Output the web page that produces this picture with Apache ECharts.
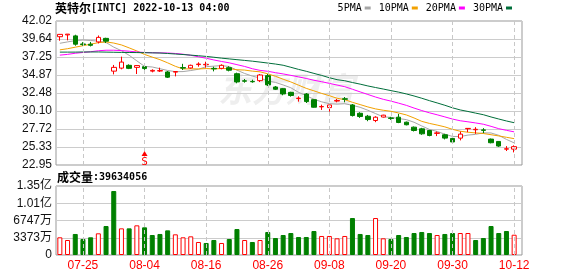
<!DOCTYPE html>
<html>
<head>
<meta charset="utf-8">
<script src="https://cdn.jsdelivr.net/npm/echarts@6/dist/echarts.min.js"></script>
<style>html,body{margin:0;padding:0;background:#fff;}#c{width:578px;height:276px;}</style>
</head>
<body>
<div id="c"></div>
<script>
const dates = ['07-20','07-21','07-22','07-25','07-26','07-27','07-28','07-29','08-01','08-02','08-03','08-04','08-05','08-08','08-09','08-10','08-11','08-12','08-15','08-16','08-17','08-18','08-19','08-22','08-23','08-24','08-25','08-26','08-29','08-30','08-31','09-01','09-02','09-06','09-07','09-08','09-09','09-12','09-13','09-14','09-15','09-16','09-19','09-20','09-21','09-22','09-23','09-26','09-27','09-28','09-29','09-30','10-03','10-04','10-05','10-06','10-07','10-10','10-11','10-12'];
const opens  = [39.94,40.18,40.05,38.98,38.95,39.25,39.72,35.38,35.78,36.15,35.88,35.97,35.38,35.40,35.27,35.25,35.85,35.80,36.25,36.22,35.75,35.75,35.84,35.04,34.10,34.02,34.12,34.78,33.28,33.06,32.57,31.75,32.35,31.60,30.65,30.55,31.42,31.72,30.90,29.80,29.41,28.84,29.30,29.18,29.28,28.62,27.96,27.74,27.52,27.14,26.95,26.47,26.51,27.75,27.62,27.60,26.38,26.07,25.05,25.05];
const closes = [40.25,40.28,38.95,38.90,38.80,39.85,39.35,35.88,36.58,35.75,36.12,35.72,35.48,35.45,34.58,35.33,35.78,36.15,36.32,36.28,35.68,36.15,35.50,33.95,34.05,33.97,34.87,33.56,32.98,32.36,32.15,31.80,31.35,30.60,30.70,30.90,31.50,31.66,29.50,29.37,28.97,29.28,29.55,29.12,28.58,28.28,27.52,27.08,26.86,27.20,26.51,26.00,27.04,27.80,27.68,27.54,25.90,25.46,25.10,25.38];
const lows   = [39.41,39.46,38.75,38.75,38.65,39.05,39.10,34.95,35.62,35.65,35.00,35.55,35.22,35.27,34.47,34.69,35.53,35.71,35.97,35.84,35.35,35.62,35.35,33.77,33.85,33.85,33.94,33.41,32.88,32.18,32.00,31.34,31.16,30.55,30.24,30.02,31.25,31.25,29.37,29.19,28.75,28.62,29.25,28.93,28.49,28.20,27.39,26.95,26.75,26.78,26.34,25.95,26.21,27.30,27.08,27.17,25.82,25.35,24.80,24.62];
const highs  = [40.30,40.30,40.20,39.22,39.25,40.10,39.80,36.20,37.30,36.28,36.15,36.15,35.62,35.84,35.40,35.35,36.35,36.24,36.55,36.63,35.97,36.28,36.02,35.18,34.34,34.25,35.00,35.00,33.41,33.15,32.65,32.04,32.48,31.65,30.94,30.92,31.69,31.95,31.03,29.94,29.58,29.41,29.60,29.32,29.72,28.70,28.05,27.87,27.60,27.39,27.08,26.55,27.39,27.82,27.96,27.83,26.45,26.12,25.45,25.55];
const volumes = [34600000,29300000,41100000,31300000,34600000,42400000,56700000,125100000,52100000,52100000,58000000,54100000,39100000,41100000,48200000,40400000,34600000,36500000,25400000,23500000,29300000,23500000,31300000,50800000,29300000,25400000,29300000,45000000,33200000,39100000,43000000,35200000,35200000,46900000,37200000,37200000,32600000,37200000,72300000,41100000,39100000,72300000,32600000,31300000,39100000,35200000,43000000,45000000,43000000,39100000,41100000,43000000,43000000,43000000,29300000,33200000,56700000,43000000,46900000,39634056];
const ma5  = [39.07,39.25,39.42,39.50,39.44,39.35,39.17,38.56,38.09,37.48,36.74,36.01,35.93,35.70,35.47,35.31,35.32,35.46,35.63,35.97,36.04,36.12,35.99,35.51,35.07,34.72,34.47,34.08,33.89,33.55,33.18,32.57,32.13,31.65,31.32,31.07,31.01,31.07,30.85,30.59,30.20,29.76,29.33,29.26,29.10,28.96,28.61,28.12,27.66,27.39,27.03,26.73,26.72,26.91,27.01,27.21,27.19,26.88,26.34,25.88];
const ma10 = [38.20,38.35,38.55,38.75,38.95,39.15,39.25,39.10,38.85,38.46,38.05,37.59,37.24,36.90,36.48,36.02,35.67,35.69,35.67,35.72,35.68,35.72,35.72,35.57,35.52,35.38,35.29,35.03,34.70,34.31,33.95,33.52,33.10,32.77,32.43,32.13,31.79,31.60,31.25,30.95,30.64,30.38,30.20,30.06,29.84,29.58,29.18,28.73,28.46,28.24,28.00,27.67,27.42,27.29,27.20,27.12,26.96,26.80,26.62,26.44];
const ma20 = [37.50,37.60,37.75,37.85,37.95,38.08,38.15,38.15,38.10,38.02,37.92,37.85,37.82,37.80,37.78,37.72,37.62,37.48,37.28,37.09,36.86,36.66,36.48,36.24,36.00,35.70,35.48,35.36,35.18,35.01,34.82,34.62,34.41,34.17,33.98,33.76,33.54,33.32,32.98,32.63,32.29,31.95,31.65,31.41,31.14,30.85,30.49,30.16,29.86,29.60,29.32,29.03,28.81,28.67,28.52,28.35,28.07,27.76,27.54,27.34];
const ma30 = [37.90,37.90,37.90,37.92,37.92,37.92,37.90,37.88,37.86,37.85,37.84,37.82,37.80,37.78,37.72,37.65,37.58,37.50,37.42,37.33,37.22,37.10,37.00,36.90,36.80,36.70,36.58,36.45,36.32,36.16,35.89,35.61,35.36,35.08,34.81,34.51,34.25,34.11,33.87,33.66,33.42,33.21,33.01,32.80,32.60,32.36,32.09,31.79,31.47,31.17,30.86,30.52,30.24,30.04,29.82,29.61,29.31,29.04,28.78,28.55];
const priceTicks = ['22.95','25.33','27.72','30.10','32.48','34.87','37.25','39.64','42.02'];
const volTicks = ['0','3373万','6747万','1.01亿','1.35亿'];
const labelDates = ['07-25','08-04','08-16','08-26','09-08','09-20','09-30','10-12'];
const signalDate = '08-04';
const signalPrice = 24.47;
const titleName = '英特尔';
const titleRest = '[INTC] 2022-10-13 04:00';
const watermark = '东方财富';

const priceMin = 22.95, priceMax = 42.02, volMax = 134920000;
const upColor = '#ff0000', downColor = '#008000';
const mono = "'DejaVu Sans Mono','Noto Sans CJK SC',monospace";
const sans = "'Liberation Sans','Noto Sans CJK SC',sans-serif";

const chart = echarts.init(document.getElementById('c'), null, {renderer: 'canvas'});

const volData = volumes.map((v, i) => {
  const up = i === 0 ? closes[0] >= opens[0] : closes[i] >= closes[i - 1];
  return {value: v, itemStyle: up ? {color: '#fff', borderColor: upColor, borderWidth: 1} : {color: downColor, borderColor: downColor, borderWidth: 1}};
});

const vLines = {
  silent: true, symbol: ['none', 'none'], label: {show: false},
  lineStyle: {type: [4, 3], color: '#c8c8c8', width: 1},
  emphasis: {disabled: true},
  data: labelDates.map(d => ({xAxis: d}))
};

function maSeries(name, data, color) {
  return {name, type: 'line', data, xAxisIndex: 1, yAxisIndex: 1, symbol: 'none', smooth: false,
    lineStyle: {width: 1, color}, itemStyle: {color}, z: 3};
}

const option = {
  animation: false,
  backgroundColor: '#fff',
  graphic: [
    {type: 'text', left: 218, top: 72, z: 0, silent: true,
     style: {text: watermark, fill: '#eeeeee', font: 'italic bold 34px "Noto Sans CJK SC"'}}
  ],
  title: [
    {text: '{cn|' + titleName + '}{en|' + titleRest + '}', left: 55, top: 2, padding: 0,
     textStyle: {rich: {cn: {fontSize: 12, fontFamily: "'Noto Sans CJK SC'", color: '#000'}, en: {fontSize: 10, fontFamily: mono, color: '#000'}}}},
    {text: '{cn|成交量}{en|:' + volumes[volumes.length - 1] + '}', left: 57, top: 171, padding: 0,
     textStyle: {rich: {cn: {fontSize: 12, fontFamily: "'Noto Sans CJK SC'", color: '#000'}, en: {fontSize: 10, fontFamily: mono, color: '#000'}}}}
  ],
  legend: {
    data: ['5PMA', '10PMA', '20PMA', '30PMA'], right: 66, top: 3, padding: 0,
    align: 'right', icon: 'rect', itemWidth: 6, itemHeight: 3, itemGap: 8, selectedMode: false,
    textStyle: {fontSize: 10, fontFamily: mono, color: '#000', padding: [0, -2, 0, 0]}
  },
  grid: [
    {left: 56, top: 21, width: 466, height: 144, show: true, borderColor: '#999', borderWidth: 1, backgroundColor: 'transparent'},
    {left: 56, top: 21, width: 462, height: 144},
    {left: 56, top: 186, width: 466, height: 69, show: true, borderColor: '#999', borderWidth: 1, backgroundColor: 'transparent'},
    {left: 56, top: 186, width: 462, height: 69}
  ],
  xAxis: [
    {gridIndex: 0, type: 'category', data: dates, show: false},
    {gridIndex: 1, type: 'category', data: dates, show: false},
    {gridIndex: 2, type: 'category', data: dates, show: false},
    {gridIndex: 3, type: 'category', data: dates,
     axisLine: {show: false}, axisTick: {show: false}, splitLine: {show: false},
     axisLabel: {interval: (i, v) => labelDates.indexOf(v) >= 0, color: upColor, fontSize: 12, fontFamily: sans, margin: 5, showMaxLabel: true}}
  ],
  yAxis: [
    {gridIndex: 0, type: 'value', min: 0, max: priceTicks.length - 1, interval: 1,
     axisLine: {show: false}, axisTick: {show: false},
     axisLabel: {formatter: v => priceTicks[Math.round(v)], margin: 4, fontSize: 12, fontFamily: sans, color: '#111'},
     splitLine: {lineStyle: {color: '#cccccc', width: 1}}},
    {gridIndex: 1, type: 'value', min: priceMin, max: priceMax, show: false},
    {gridIndex: 2, type: 'value', min: 0, max: volTicks.length - 1, interval: 1,
     axisLine: {show: false}, axisTick: {show: false},
     axisLabel: {formatter: v => volTicks[Math.round(v)], margin: 4, fontSize: 12, fontFamily: sans, color: '#111'},
     splitLine: {lineStyle: {color: '#cccccc', width: 1}}},
    {gridIndex: 3, type: 'value', min: 0, max: volMax, show: false}
  ],
  series: [
    maSeries('5PMA', ma5, '#a6a6a6'),
    maSeries('10PMA', ma10, '#f2a100'),
    maSeries('20PMA', ma20, '#ff00ff'),
    maSeries('30PMA', ma30, '#006e3a'),
    {type: 'candlestick', name: 'K', xAxisIndex: 1, yAxisIndex: 1, barWidth: 5, z: 4,
     data: dates.map((d, i) => [opens[i], closes[i], lows[i], highs[i]]),
     itemStyle: {color: '#fff', color0: downColor, borderColor: upColor, borderColor0: downColor, borderWidth: 1},
     markLine: vLines,
     markPoint: {silent: true, data: [{coord: [signalDate, signalPrice], symbol: 'triangle', symbolSize: [6, 5],
       itemStyle: {color: upColor},
       label: {show: true, formatter: 'S', position: 'bottom', distance: 1, color: upColor, fontSize: 11, fontFamily: mono}}]}},
    {type: 'bar', name: 'VOL', xAxisIndex: 3, yAxisIndex: 3, barWidth: 5, data: volData, markLine: vLines}
  ]
};
chart.setOption(option);
</script>
</body>
</html>
